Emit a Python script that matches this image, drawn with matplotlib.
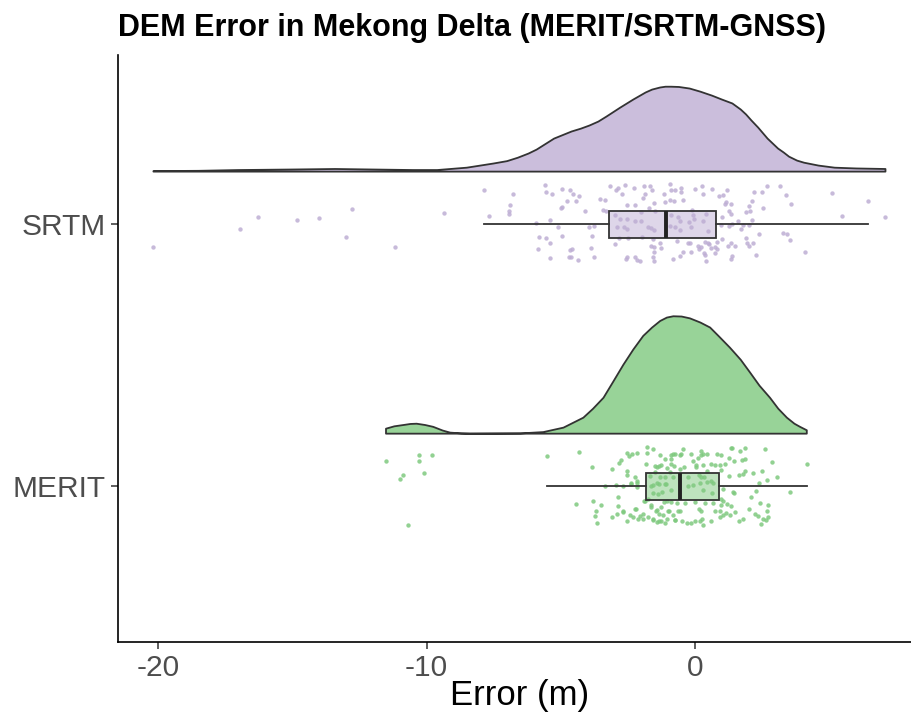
import matplotlib
matplotlib.use("Agg")
import matplotlib.pyplot as plt
import numpy as np

plt.rcParams['font.family'] = ['Liberation Sans', 'DejaVu Sans']

# categories on the y axis (MERIT = 1, SRTM = 2)
categories = ["MERIT", "SRTM"]
colors = {"MERIT": "#7FC97F", "SRTM": "#BEAED4"}

# individual errors (m) and their vertical jitter
srtm_err = [-20.17, -16.93, -16.28, -14.83, -14.00, -12.76, -13.00, -11.17, -9.36, -7.86, -7.66,
            -6.77, -6.89, -6.92, -6.92, -5.58, -5.55, -5.34, -4.96, -4.66, -4.55, -4.33, -4.43,
            -4.78, -4.95, -5.00, -4.09, -5.40, -5.92, -5.10, -5.80, -5.55, -5.40, -4.95, -5.85,
            -5.40, -4.66, -4.58, -4.70, -4.63, -4.36, -3.88, -3.76, -3.84, -3.96, -3.76, -3.54,
            -3.36, -3.17, -2.94, -2.87, -2.62, -2.72, -2.27, -1.90, -1.68, -1.85, -1.93, -1.60,
            -2.54, -2.25, -1.53, -1.70, -1.48, -3.42, -3.31, -2.99, -2.00, -2.79, -2.52, -2.22,
            -2.02, -2.92, -2.64, -2.52, -1.75, -1.65, -1.53, -2.84, -2.50, -1.97, -1.58, -2.97,
            -1.65, -1.53, -1.30, -1.26, -1.53, -2.54, -2.57, -2.25, -2.17, -2.05, -1.58, -1.53,
            -1.15, -0.93, -0.88, -0.76, -0.53, -0.51, -1.11, -0.93, -0.78, -0.46, -0.88, -0.63,
            -0.58, -0.93, -0.76, -0.56, -0.23, -0.66, -0.81, -0.58, -0.44, -0.26,
            -0.01, 0.26, 0.31, 0.63, 0.88, 1.03, 1.18, 1.11, 1.15, 1.35, 1.26, 1.35, -0.11, -0.06,
            -0.04, 0.31, 0.41, 1.01, 0.48, -0.14, 0.96, 1.28, 1.38, 1.60, 1.78, 1.70, 2.00, 1.90,
            2.05, 2.02, 2.12, 2.20, 2.50, 2.67, 3.17, 3.39, 2.54, 3.56, 2.12, 2.39, 3.27, 3.44,
            3.54, 1.90, 1.95, 2.00, 2.17, 1.48, 1.23, 1.33, 1.01, 0.81, 0.76, 0.58, 0.53, 0.38,
            0.48, 0.11, 0.16, 0.21, 0.34, 0.38, 0.76, 0.83, 0.41, 1.33, 1.38, 2.27, -0.19, -0.16,
            6.45, 7.09, 5.46, 5.11, 4.10]
srtm_jit = [-0.088, -0.020, 0.026, 0.017, 0.022, 0.059, -0.051, -0.088, 0.043, 0.130, 0.029,
            0.116, 0.073, 0.050, 0.037, 0.149, 0.121, 0.113, 0.134, 0.131, 0.116, 0.106, 0.088,
            0.086, 0.065, 0.063, 0.048, 0.016, 0.005, -0.011, -0.049, -0.055, -0.074, -0.044, -0.094,
            -0.130, -0.100, -0.097, -0.127, -0.127, -0.138, -0.092, -0.127, -0.046, -0.011, -0.008, 0.096,
            0.090, 0.144, 0.129, 0.136, 0.149, 0.113, 0.136, 0.144, 0.146, 0.116, 0.101, 0.131,
            0.073, 0.073, 0.081, 0.060, 0.050, 0.055, 0.050, 0.035, 0.045, 0.020, 0.020, 0.012,
            0.010, -0.011, -0.011, -0.018, -0.011, -0.016, -0.024, -0.054, -0.054, -0.049, -0.056, -0.077,
            -0.084, -0.089, -0.074, -0.092, -0.105, -0.125, -0.132, -0.127, -0.138, -0.140, -0.125, -0.140,
            0.116, 0.151, 0.131, 0.131, 0.139, 0.124, 0.083, 0.090, 0.088, 0.090, 0.035, 0.027,
            0.012, -0.008, -0.013, -0.021, 0.007, -0.064, -0.135, -0.122, -0.107, -0.071,
            0.134, 0.146, 0.116, 0.134, 0.108, 0.111, 0.129, 0.078, 0.083, 0.075, 0.050, 0.040, 0.055, 0.035,
            0.020, 0.010, 0.037, 0.027, -0.026, -0.013, -0.003, -0.008, -0.001, 0.010, -0.003, -0.018, -0.003, 0.045,
            0.050, 0.068, 0.086, 0.121, 0.121, 0.146, 0.146, 0.111, 0.060, 0.075, 0.017, -0.039, -0.033, -0.039,
            -0.062, -0.054, -0.071, -0.084, -0.071, -0.084, -0.082, -0.071, -0.059, -0.067, -0.089, -0.092, -0.077, -0.069,
            -0.074, -0.082, -0.094, -0.089, -0.112, -0.117, -0.110, -0.094, -0.140, -0.135, -0.122, -0.117, -0.071, -0.105,
            0.087, 0.025, 0.029, 0.117, -0.107]

merit_err = [-11.51, -10.27, -9.80, -10.29, -10.89, -10.99, -10.09, -10.70, -5.50, -4.32, -3.85,
             -4.43, -3.82, -3.51, -3.70, -3.72, -3.64, -3.35, -3.09, -2.82, -2.77, -2.52, -2.45,
             -2.35, -2.17, -1.80, -1.55, -1.78, -1.30, -1.11, -0.88, -0.73, -1.82, -1.40, -1.28,
             -1.05, -0.91, -2.52, -2.52, -2.25, -2.17, -1.50, -2.69, -2.37, -2.15, -2.94, -2.87,
             -2.87, -3.09, -2.89, -2.69, -2.54, -2.42, -2.25, -2.20, -2.12, -1.93, -1.75, -1.75,
             -1.90, -1.65, -1.55, -1.40, -1.28, -1.45, -1.35, -1.26, -1.11, -1.01, -1.05, -0.76,
             -1.65, -1.43, -1.11, -1.08, -1.23, -1.58, -1.38,
             -0.81, -0.58, -0.44, -0.88, -1.50, -1.33, -0.78, -0.56, -0.93, -1.68, -1.30, -1.55,
             -1.35, -1.11, -0.83, -0.91, -1.85, -1.15, -0.88, -0.66, -1.65, -1.43, -0.98, -0.63,
             -1.20, -0.81, -1.55, -1.33, -1.05, -0.73, -0.48, -2.39, -2.17, -2.67, -2.30, -2.05, -1.95,
             -0.51, -0.14, -0.06, 0.11, 0.21, 0.31, 0.44, 0.23, 0.81, 0.98, 1.33, 1.38, 1.68, 1.87,
             1.28, 1.45, 1.75, 1.87, 2.60, 2.87, 4.18, -0.41, 0.04, 0.04, 0.29, 0.58, 0.73, 0.93,
             1.11, 0.44, 0.96, 1.63, 1.78, 1.87, 2.17, 2.50, 1.26, 2.69, 3.04, 2.39, -0.26, 0.14,
             0.21, 0.34, 0.58, 0.68, 0.46, 0.19, -0.06, -0.26, 0.31, 0.63, 1.03, 1.40, 1.45, 2.27,
             2.10, 3.54, -0.38, -0.01, 0.38, 0.68, 0.98, 1.03, 1.18, 1.33, 0.96, 2.42, 2.72, 2.00,
             -0.56, 0.14, 0.23, 0.73, 0.93, 1.03, 1.15, 1.30, 1.50, 2.22, 2.35, 2.67, 2.72, 2.64,
             2.52, -0.31, -0.14, 0.01, 0.19, 0.26, 0.31, 0.58, 0.93, 1.63, 1.80, 2.47]
merit_jit = [0.094, 0.117, 0.117, 0.096, 0.041, 0.028, 0.051, -0.148, 0.114, 0.129, 0.072,
             -0.067, -0.057, -0.071, -0.095, -0.114, -0.140, 0.000, 0.066, 0.089, 0.099, 0.127, 0.114,
             0.124, 0.127, 0.149, 0.140, 0.127, 0.119, 0.104, 0.119, 0.124, 0.086, 0.073, 0.079,
             0.068, 0.086, 0.056, 0.043, 0.035, 0.018, 0.053, 0.000, 0.008, 0.013, 0.005, -0.043,
             -0.076, -0.117, -0.106, -0.099, -0.134, -0.111, -0.086, -0.086, -0.124, -0.106, -0.117, -0.051,
             -0.056, -0.073, -0.127, -0.137, -0.134, -0.096, -0.106, -0.079, -0.140, -0.096, -0.056, -0.129,
             0.000, 0.013, 0.033, 0.008, -0.023, -0.025, -0.030,
             0.122, 0.119, 0.142, 0.104, 0.076, 0.076, 0.076, 0.066, 0.053, 0.038, 0.035, 0.005,
             0.008, 0.008, 0.035, -0.015, -0.056, -0.061, -0.061, -0.063, -0.079, -0.091, -0.094, -0.096,
             -0.111, -0.109, -0.129, -0.134, -0.124, -0.129, -0.132, 0.010, -0.003, -0.096, -0.117, -0.114, -0.124,
             0.122, 0.122, 0.096, 0.109, 0.117, 0.122, 0.124, 0.134, 0.124, 0.119, 0.144, 0.147, 0.134, 0.144,
             0.109, 0.094, 0.099, 0.102, 0.140, 0.091, 0.086, 0.071, 0.079, 0.071, 0.079, 0.084, 0.079, 0.079,
             0.084, 0.056, 0.063, 0.041, 0.046, 0.058, 0.048, 0.058, 0.038, 0.025, 0.035, 0.013, 0.033, 0.043,
             0.033, 0.035, 0.020, 0.010, 0.015, 0.010, 0.005, 0.000, -0.015, -0.028, -0.013, -0.023, -0.028, -0.018,
             -0.041, -0.023, -0.066, -0.061, -0.063, -0.063, -0.048, -0.058, -0.068, -0.076, -0.073, -0.063, -0.073, -0.089,
             -0.094, -0.089, -0.096, -0.094, -0.096, -0.111, -0.104, -0.109, -0.099, -0.106, -0.114, -0.096, -0.119, -0.129,
             -0.124, -0.140, -0.140, -0.134, -0.132, -0.124, -0.147, -0.134, -0.119, -0.132, -0.124, -0.144]

# half-violin (density) outlines, height in y-axis units
srtm_dens_x = [-20.17, -18.5, -17.0, -15.0, -13.4, -12.0, -10.5, -9.6, -8.5, -8.0, -7.5, -7.0,
               -6.6, -6.2, -5.9, -5.25, -4.6, -4.25, -3.93, -3.6, -3.3, -2.79, -2.3, -1.84, -1.6,
               -1.3, -1.1, -0.89, -0.6, -0.2, 0.2, 0.63, 1.0, 1.39, 1.7, 1.9, 2.1, 2.35, 2.7,
               3.09, 3.3, 3.5, 3.8, 4.06, 4.6, 5.2, 6.0, 7.09]
srtm_dens_y = [0.002, 0.003, 0.006, 0.008, 0.010, 0.008, 0.006, 0.006, 0.015, 0.023, 0.031, 0.040,
               0.053, 0.069, 0.084, 0.126, 0.153, 0.164, 0.176, 0.191, 0.210, 0.244, 0.275, 0.302, 0.313,
               0.321, 0.324, 0.324, 0.323, 0.317, 0.305, 0.290, 0.275, 0.260, 0.237, 0.218, 0.195, 0.168, 0.126,
               0.088, 0.073, 0.057, 0.042, 0.034, 0.023, 0.015, 0.012, 0.010]
merit_dens_x = [-11.51, -11.2, -10.86, -10.6, -10.37, -10.05, -9.75, -9.4, -9.12, -8.7, -8.38,
                -6.5, -5.65, -4.9, -4.16, -3.8, -3.41, -3.05, -2.67, -2.3, -1.93, -1.6, -1.30,
                -1.05, -0.81, -0.5, -0.19, 0.2, 0.56, 0.9, 1.30, 1.7, 2.05, 2.4, 2.79, 3.1,
                3.42, 3.7, 3.91, 4.16]
merit_dens_y = [0.019, 0.028, 0.033, 0.037, 0.038, 0.033, 0.026, 0.012, 0.004, 0.001, 0.000,
                0.001, 0.006, 0.023, 0.061, 0.095, 0.137, 0.198, 0.263, 0.321, 0.373, 0.405, 0.430,
                0.443, 0.448, 0.447, 0.440, 0.424, 0.405, 0.370, 0.328, 0.282, 0.233, 0.183, 0.137, 0.095,
                0.061, 0.038, 0.026, 0.013]

# boxplot statistics: lower whisker, Q1, median, Q3, upper whisker
srtm_box = [-7.86, -3.19, -1.08, 0.78, 6.43]
merit_box = [-5.50, -1.82, -0.56, 0.89, 4.16]


def main():
    fig = plt.figure(figsize=(9.11, 7.22), dpi=100)
    ax = fig.add_axes([118 / 911, 80 / 722, 804 / 911, 587 / 722])

    groups = {
        "SRTM": (2, srtm_err, srtm_jit, srtm_dens_x, srtm_dens_y, srtm_box),
        "MERIT": (1, merit_err, merit_jit, merit_dens_x, merit_dens_y, merit_box),
    }

    for name, (pos, err, jit, dx, dy, box) in groups.items():
        col = colors[name]
        base = pos + 0.2
        # flat violin
        xs = np.r_[dx, dx[::-1]]
        ys = np.r_[base + np.array(dy), np.full(len(dx), base)]
        ax.fill(xs, ys, facecolor=col, alpha=0.8, edgecolor="none", zorder=2)
        ax.fill(xs, ys, facecolor="none", edgecolor="#333333", linewidth=1.3,
                joinstyle="round", zorder=3)

        # raw points
        ax.scatter(err, pos + np.array(jit), s=10, color=col, alpha=0.85,
                   linewidths=0, zorder=2)

        # boxplot
        stats = [dict(whislo=box[0], q1=box[1], med=box[2], q3=box[3], whishi=box[4])]
        ax.bxp(stats, positions=[pos], widths=0.103, orientation="horizontal",
               showfliers=False, showcaps=False, patch_artist=True,
               boxprops=dict(facecolor=col, alpha=0.5, edgecolor="none"),
               whiskerprops=dict(color="#333333", linewidth=1.3),
               medianprops=dict(color="#333333", linewidth=0), zorder=4)
        ax.bxp(stats, positions=[pos], widths=0.103, orientation="horizontal",
               showfliers=False, showcaps=False, patch_artist=True,
               boxprops=dict(facecolor="none", edgecolor="#333333", linewidth=1.3),
               whiskerprops=dict(linewidth=0),
               medianprops=dict(color="#222222", linewidth=2.8), zorder=5)

    ax.set_xlim(-21.49, 8.45)
    ax.set_ylim(0.405, 2.645)
    ax.set_xticks([-20, -10, 0])
    ax.set_xticklabels(["-20", "-10", "0"])
    ax.set_yticks([1, 2])
    ax.set_yticklabels(categories)

    for side in ["top", "right"]:
        ax.spines[side].set_visible(False)
    for side in ["left", "bottom"]:
        ax.spines[side].set_linewidth(1.2)
        ax.spines[side].set_color("black")
    ax.tick_params(axis="both", length=5, width=1.1, color="#333333",
                   labelsize=21.5, labelcolor="#4D4D4D", pad=4)

    ax.set_xlabel("Error (m)", fontsize=25, color="black", labelpad=2)
    ax.xaxis.set_label_coords((520 - 118) / 804, -0.063)
    ax.set_title("DEM Error in Mekong Delta (MERIT/SRTM-GNSS)", loc="left",
                 fontsize=22, fontweight="bold", pad=14)

    fig.savefig("out.png", dpi=100)


if __name__ == "__main__":
    main()
